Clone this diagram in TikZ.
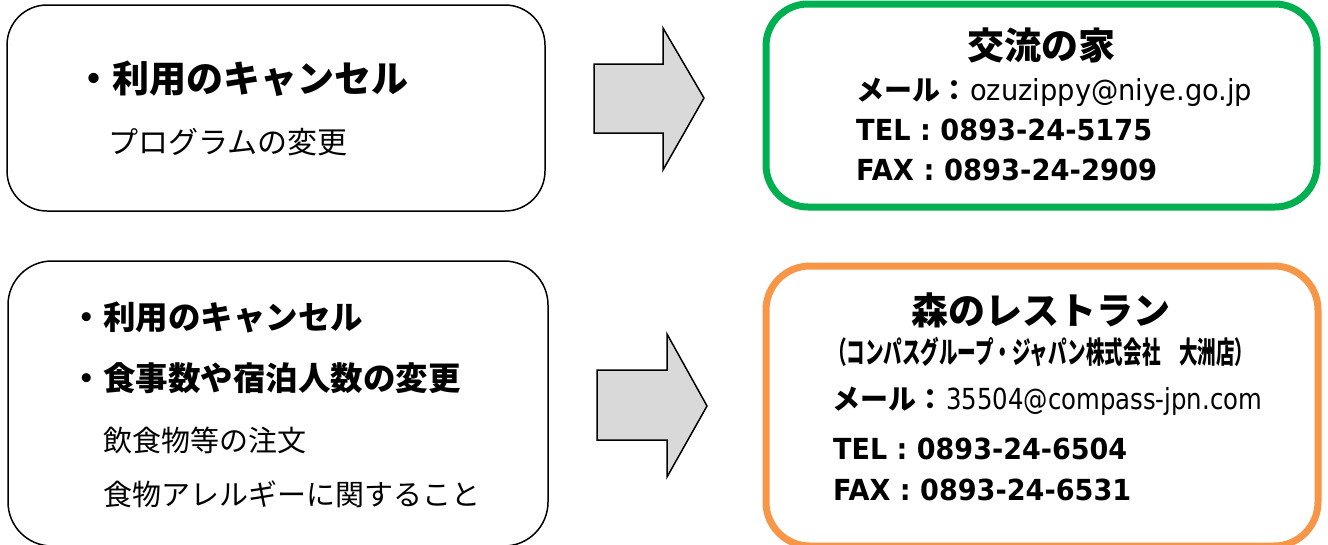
\documentclass[tikz,border=0pt]{standalone}
\usepackage{fontspec}
\usepackage{graphicx}
\newfontfamily\jp{Noto Sans CJK JP}
\newfontfamily\lat{DejaVu Sans}
\definecolor{boxgreen}{HTML}{00B050}
\definecolor{boxorange}{HTML}{F79646}
\definecolor{arrowgray}{HTML}{D9D9D9}
\newcommand\jpfs[1]{\fontsize{#1}{#1}\selectfont}
\newsavebox\fitbox
\newcommand\fitw[2]{\sbox\fitbox{#2}\pgfmathsetmacro\fitsx{#1/\the\wd\fitbox}\scalebox{\fitsx}[1]{\usebox\fitbox}}
\begin{document}
\begin{tikzpicture}[x=1pt,y=-1pt,
  leftbox/.style={draw=black, line width=1.5pt, rounded corners=40pt},
  greenbox/.style={draw=boxgreen, line width=7pt, rounded corners=42pt},
  orangebox/.style={draw=boxorange, line width=7pt, rounded corners=44pt},
  blockarrow/.style={draw=black, fill=arrowgray, line width=1.5pt, line join=miter},
  txt/.style={inner sep=0pt, anchor=base west}]
\useasboundingbox (0,0) rectangle (1328,544);
\fill[white] (0,0) rectangle (1328,544);
% boxes
\draw[leftbox] (7,5) rectangle (545,211);
\draw[leftbox, rounded corners=44pt] (8,261) rectangle (548,546);
\draw[greenbox] (766,4) rectangle (1317,207);
\draw[orangebox] (766,266) rectangle (1318,546);
% block arrows
\draw[blockarrow] (594,64) -- (663,64) -- (663,28) -- (704,98) -- (663,170) -- (663,133) -- (594,133) -- cycle;
\draw[blockarrow] (597,370) -- (667,370) -- (667,334) -- (707,406) -- (667,477) -- (667,440) -- (597,440) -- cycle;
% left texts
\node[txt] (b1a) at (75,92) {\jp\bfseries\jpfs{37}・利用のキャンセル};
\node[txt] (b1b) at (108,153) {\jp\jpfs{30}プログラムの変更};
\node[txt] (b2a) at (70.5,329) {\jp\bfseries\jpfs{32.5}・利用のキャンセル};
\node[txt] (b2b) at (70.5,390) {\jp\bfseries\jpfs{32.5}・食事数や宿泊人数の変更};
\node[txt] (b2c) at (103,451) {\jp\jpfs{29}飲食物等の注文};
\node[txt] (b2d) at (103,505) {\jp\jpfs{29}食物アレルギーに関すること};
% green box texts
\node[txt, anchor=base] (g0) at (1041,59) {\jp\bfseries\jpfs{37}交流の家};
\node[txt] (g1) at (856,100) {\jp\bfseries\jpfs{28}メール：\hspace{2pt}\lat\mdseries\jpfs{29}\fitw{282}{ozuzippy@niye.go.jp}};
\node[txt] (g2) at (856,140) {\lat\bfseries\jpfs{29}\fitw{296}{TEL : 0893-24-5175}};
\node[txt] (g3) at (856,180) {\lat\bfseries\jpfs{29}\fitw{301}{FAX : 0893-24-2909}};
% orange box texts
\node[txt, anchor=base] (o0) at (1041,324) {\jp\bfseries\jpfs{37}森のレストラン};
\node[txt] (o1) at (828,363) {\jp\bfseries\jpfs{30}\fitw{425}{（コンパスグループ・ジャパン株式会社　大洲店）}};
\node[txt] (o2) at (832,409) {\jp\bfseries\jpfs{28}メール：\hspace{2pt}\lat\mdseries\jpfs{29}\fitw{316}{35504@compass-jpn.com}};
\node[txt] (o3) at (833,459) {\lat\bfseries\jpfs{29}\fitw{294}{TEL : 0893-24-6504}};
\node[txt] (o4) at (833,500) {\lat\bfseries\jpfs{29}\fitw{298}{FAX : 0893-24-6531}};
\end{tikzpicture}
\end{document}
